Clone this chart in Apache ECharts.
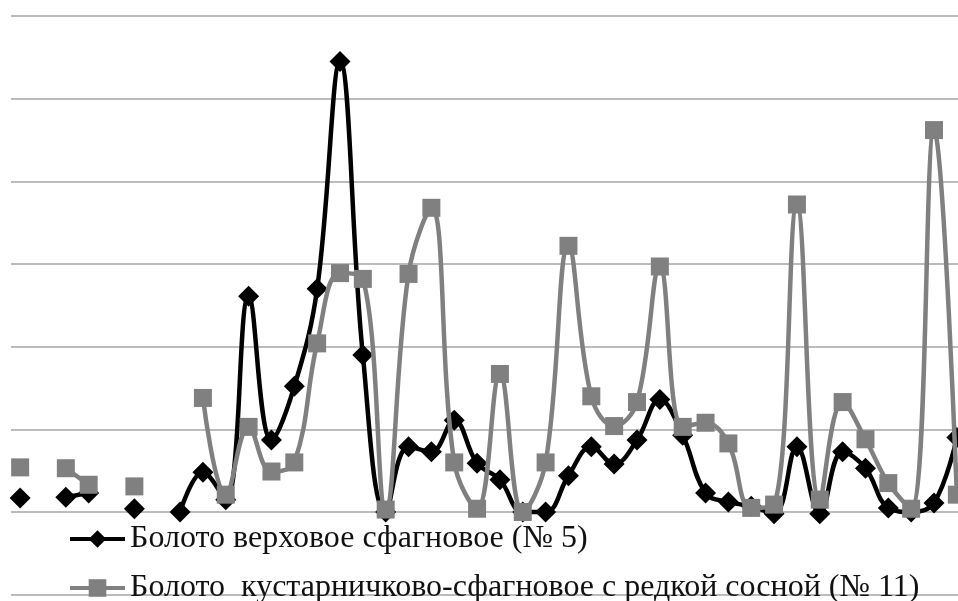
<!DOCTYPE html>
<html>
<head>
<meta charset="utf-8">
<script src="https://cdn.jsdelivr.net/npm/echarts@6/dist/echarts.min.js"></script>
<style>
html,body{margin:0;padding:0;background:#fff;}
#chart{width:958px;height:601px;}
</style>
</head>
<body>
<div id="chart"></div>
<script>
// Sample positions (index along the x axis)
var categories = [0,1,2,3,4,5,6,7,8,9,10,11,12,13,14,15,16,17,18,19,20,21,22,23,24,25,26,27,28,29,30,31,32,33,34,35,36,37,38,39,40,41];
// Series values (null = gap)
var seriesNames = ['Болото верховое сфагновое (№ 5)', 'Болото  кустарничково-сфагновое с редкой сосной (№ 11)'];
var bog5 = [0.17,null,0.18,0.23,null,0.04,null,0.0,0.48,0.15,2.61,0.87,1.52,2.70,5.45,1.90,0.0,0.79,0.73,1.11,0.59,0.39,0.0,0.0,0.44,0.79,0.58,0.87,1.36,0.93,0.23,0.12,0.07,-0.02,0.79,-0.02,0.73,0.53,0.05,0.0,0.11,0.90];
var bog11 = [0.54,null,0.53,0.33,null,0.31,null,null,1.38,0.21,1.03,0.49,0.60,2.04,2.89,2.82,0.03,2.88,3.68,0.60,0.04,1.67,0.0,0.60,3.22,1.40,1.04,1.33,2.97,1.03,1.08,0.83,0.05,0.09,3.72,0.15,1.33,0.88,0.35,0.04,4.62,0.21];
// Y axis gridline values
var yTicks = [-1,0,1,2,3,4,5,6];

function pairs(vals){
  return categories.map(function(c,i){ return [c, vals[i]]; });
}

var chart = echarts.init(document.getElementById('chart'), null, {renderer:'canvas'});
var font = '"Liberation Serif", "Times New Roman", serif';
chart.setOption({
  animation:false,
  backgroundColor:'#fff',
  grid:{left:11,right:0,top:16,bottom:6.3,containLabel:false},
  xAxis:{type:'value',min:-0.4,max:41.05,show:false,splitLine:{show:false}},
  yAxis:{type:'value',min:yTicks[0],max:yTicks[yTicks.length-1],interval:1,
    axisLabel:{show:false},axisLine:{show:false},axisTick:{show:false},
    splitLine:{show:true,lineStyle:{color:'#a6a6a6',width:1.6}}},
  legend:[
    {data:[seriesNames[0]],orient:'vertical',left:68,top:523,padding:0,itemWidth:55,itemHeight:22,
     lineStyle:{width:4},
     textStyle:{fontFamily:font,fontSize:32,color:'#111'}},
    {data:[seriesNames[1]],orient:'vertical',left:68,top:572,padding:0,itemWidth:55,itemHeight:22,
     lineStyle:{width:4},
     textStyle:{fontFamily:font,fontSize:32,color:'#111'}}
  ],
  series:[
    {name:seriesNames[0],type:'line',data:pairs(bog5),smooth:0.4,connectNulls:false,
     symbol:'diamond',symbolSize:21,showSymbol:true,
     lineStyle:{color:'#000',width:4.5},itemStyle:{color:'#000'},z:2},
    {name:seriesNames[1],type:'line',data:pairs(bog11),smooth:0.4,connectNulls:false,
     symbol:'rect',symbolSize:18,showSymbol:true,
     lineStyle:{color:'#808080',width:4.5},itemStyle:{color:'#808080'},z:3}
  ]
});
</script>
</body>
</html>
